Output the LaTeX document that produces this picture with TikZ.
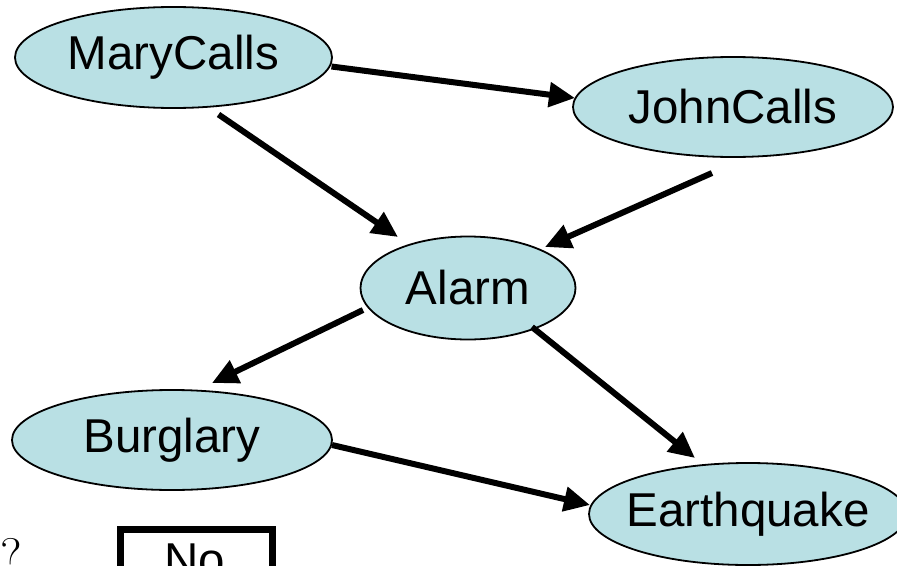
\documentclass[tikz,border=0pt]{standalone}
\usepackage{fontspec}
\newfontfamily\arialish{Liberation Sans}
\usetikzlibrary{shapes.geometric,arrows.meta,calc}
\definecolor{nodefill}{RGB}{185,224,228}
\tikzset{
  bnode/.style={ellipse, draw=black, line width=1.8pt, fill=nodefill, inner sep=0pt,
    font=\arialish\fontsize{47.5}{52}\selectfont},
  arr/.style={line width=6pt, -{Triangle[length=26pt,width=24pt]}},
}
\begin{document}
\begin{tikzpicture}[x=1pt,y=-1pt]
\useasboundingbox (0,0) rectangle (897,565);
\clip (0,0) rectangle (897,565);
\node[bnode, minimum width=317pt, minimum height=101pt] (mary) at (173.5,57.5) {MaryCalls};
\node[bnode, minimum width=320pt, minimum height=100pt] (john) at (733,107) {JohnCalls};
\node[bnode, minimum width=215pt, minimum height=103pt] (alarm) at (468,288) {Alarm};
\node[bnode, minimum width=320pt, minimum height=100pt] (burg) at (172,440) {Burglary};
\node[bnode, inner xsep=-25pt, minimum width=318pt, minimum height=102pt] (earth) at (748,514) {Earthquake};
\draw[arr] ($(mary)+(158,9)$) -- ($(john)+(-158,-9)$);
\draw[arr] ($(mary)+(45,57)$) -- ($(alarm)+(-70,-51)$);
\draw[arr] ($(john)+(-21,66)$) -- ($(alarm)+(77,-41)$);
\draw[arr] ($(alarm)+(-105,22)$) -- ($(burg)+(40,-57)$);
\draw[arr] ($(alarm)+(64,39)$) -- ($(earth)+(-53,-56)$);
\draw[arr] ($(burg)+(160,5)$) -- ($(earth)+(-158,-9)$);
\node[anchor=base west, inner sep=0pt, font=\fontsize{50}{54}\selectfont] (q) at (0,573) {?};
\draw[line width=7pt] (120,600) |- (272,529) coordinate (boxtr) -- (272,600);
\node[anchor=base west, inner sep=0pt, font=\arialish\fontsize{47.5}{52}\selectfont] (no) at (164.5,576) {No};
\end{tikzpicture}
\end{document}
